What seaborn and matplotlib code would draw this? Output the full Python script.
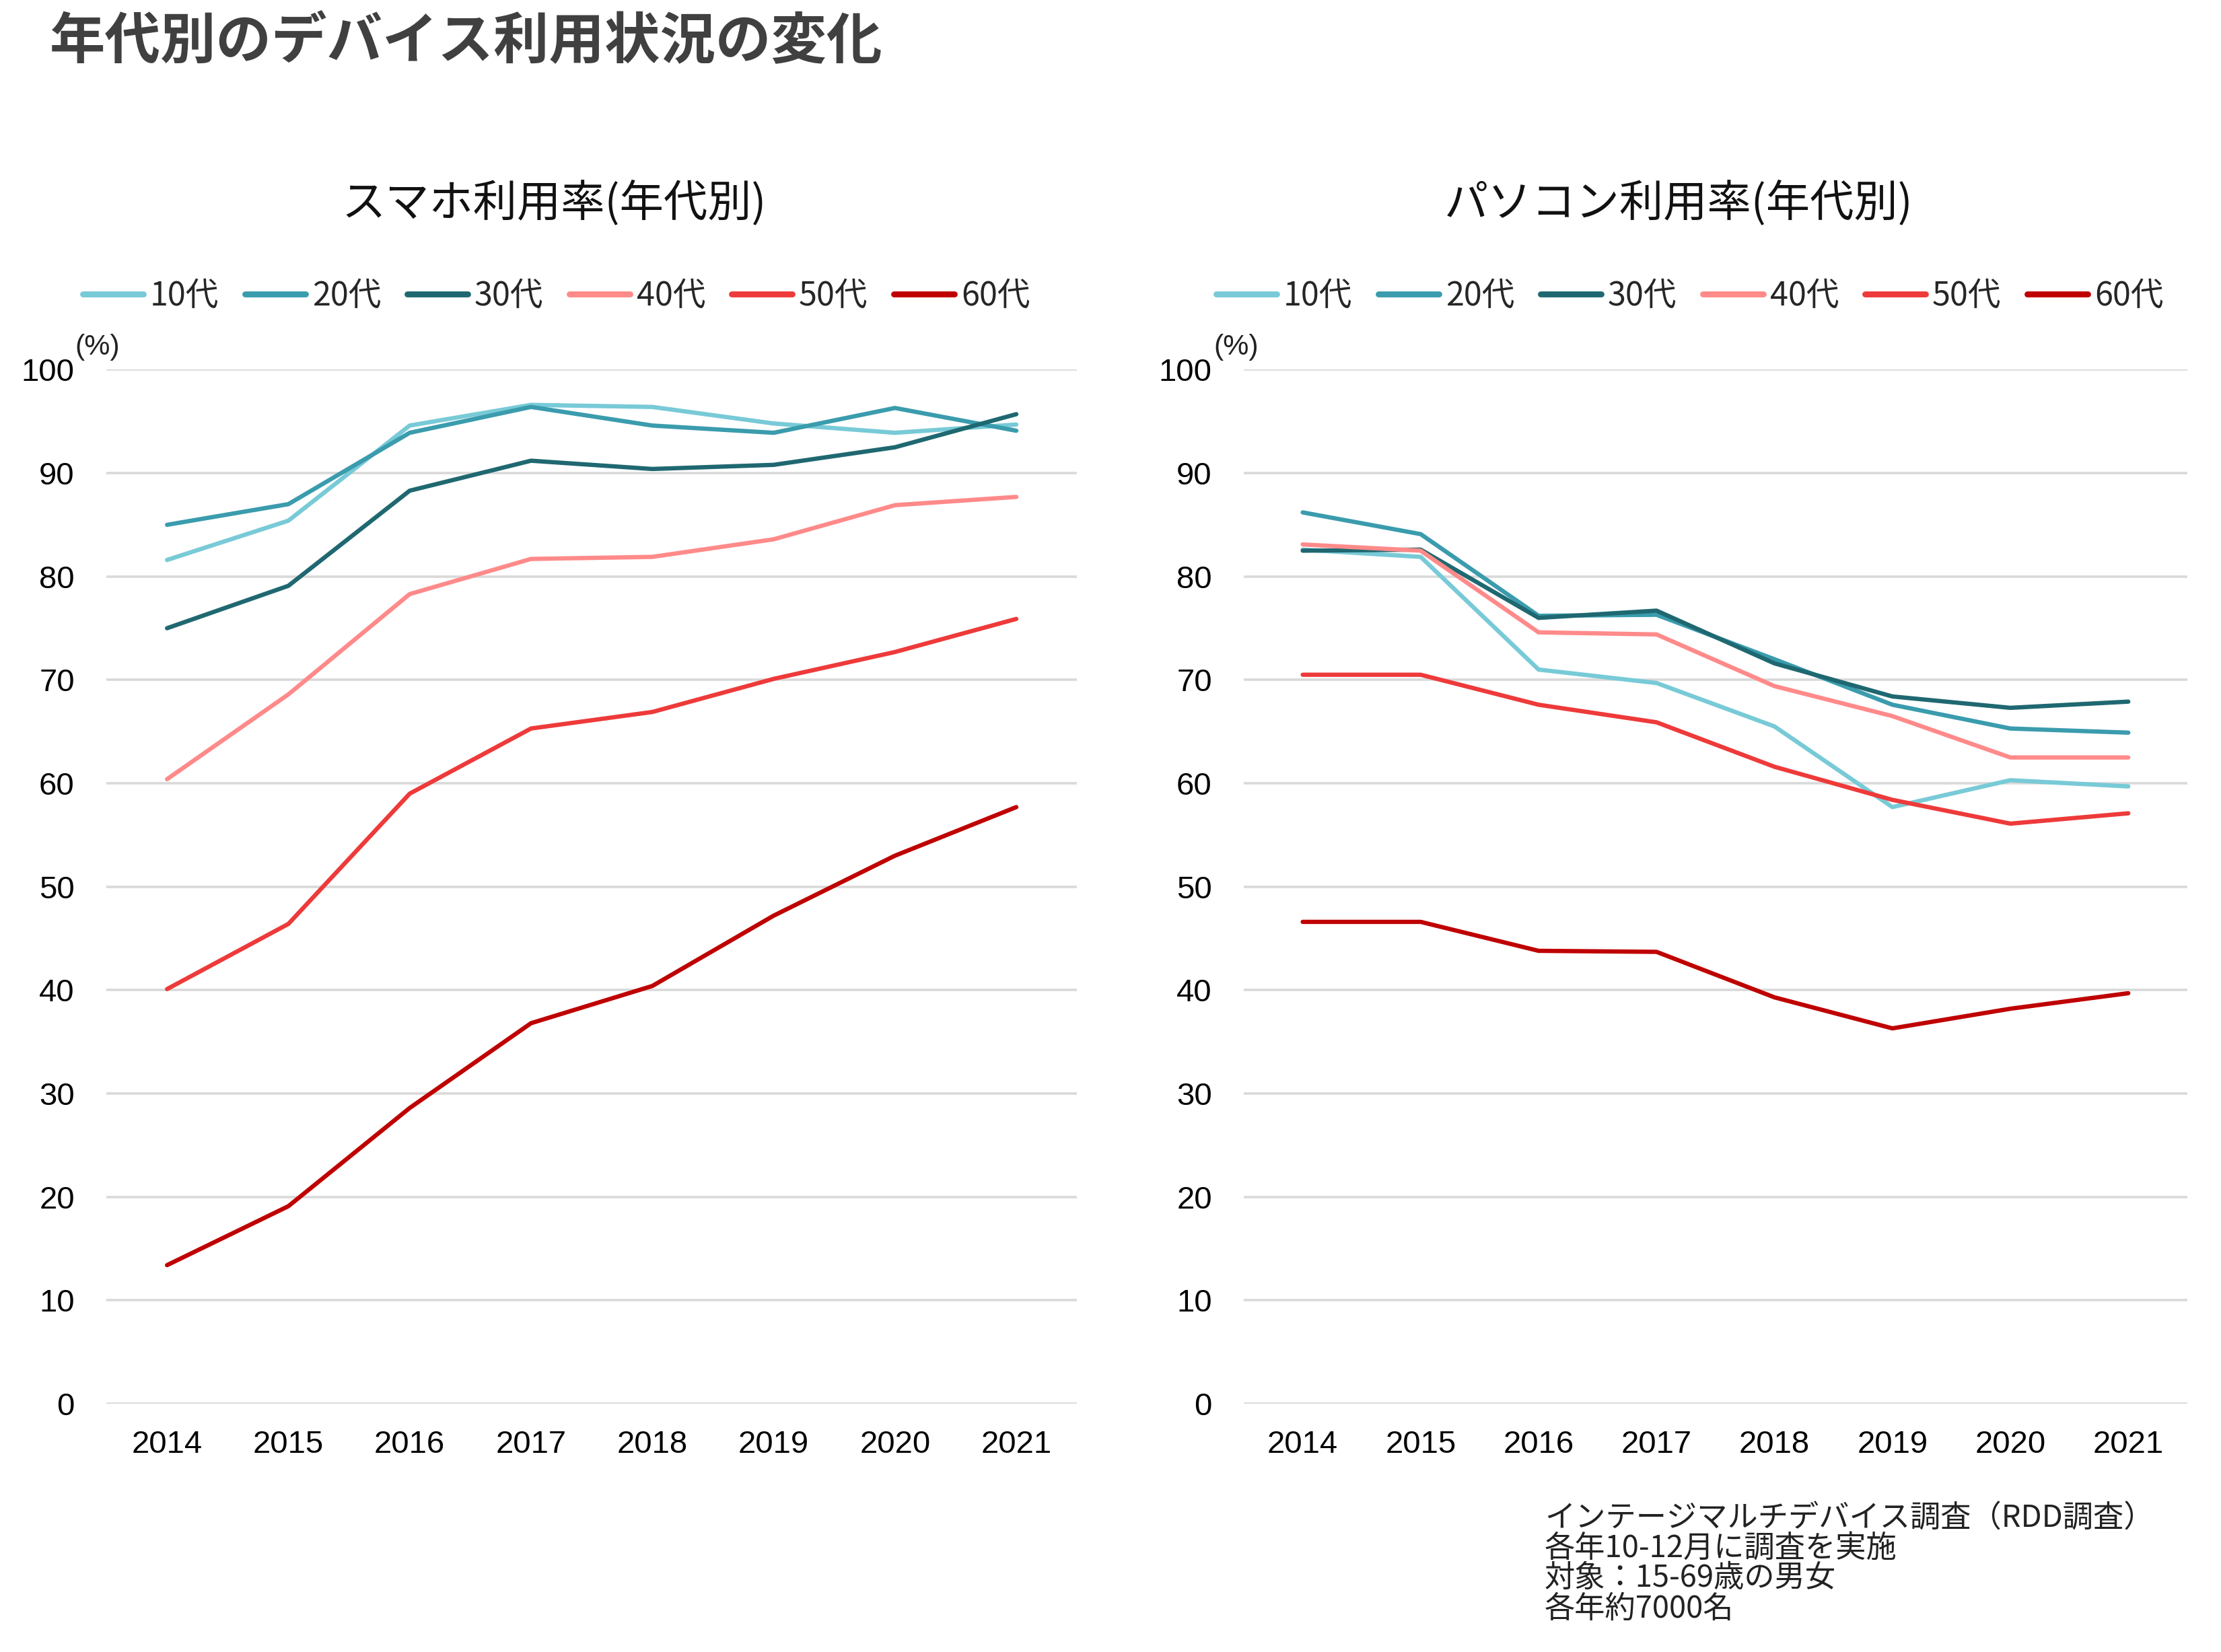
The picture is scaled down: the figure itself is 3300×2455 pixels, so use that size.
import matplotlib
matplotlib.use("Agg")
import matplotlib.pyplot as plt
import seaborn as sns
import pandas as pd

# data
years = [2014, 2015, 2016, 2017, 2018, 2019, 2020, 2021]
groups = ["10代", "20代", "30代", "40代", "50代", "60代"]
colors = ["#78CAD7", "#3A9CAD", "#1F6871", "#FF8A8A", "#EE3A3A", "#BF0000"]

smartphone = {
    "10代": [81.6, 85.4, 94.6, 96.6, 96.4, 94.8, 93.9, 94.7],
    "20代": [85.0, 87.0, 93.9, 96.4, 94.6, 93.9, 96.3, 94.1],
    "30代": [75.0, 79.1, 88.3, 91.2, 90.4, 90.8, 92.5, 95.7],
    "40代": [60.4, 68.6, 78.3, 81.7, 81.9, 83.6, 86.9, 87.7],
    "50代": [40.1, 46.4, 59.0, 65.3, 66.9, 70.1, 72.7, 75.9],
    "60代": [13.4, 19.1, 28.6, 36.8, 40.4, 47.2, 53.0, 57.7],
}
pc = {
    "10代": [82.6, 81.9, 71.0, 69.7, 65.5, 57.7, 60.3, 59.7],
    "20代": [86.2, 84.1, 76.2, 76.3, 72.0, 67.6, 65.3, 64.9],
    "30代": [82.5, 82.6, 76.0, 76.7, 71.6, 68.4, 67.3, 67.9],
    "40代": [83.1, 82.5, 74.6, 74.4, 69.4, 66.5, 62.5, 62.5],
    "50代": [70.5, 70.5, 67.6, 65.9, 61.6, 58.4, 56.1, 57.1],
    "60代": [46.6, 46.6, 43.8, 43.7, 39.3, 36.3, 38.2, 39.7],
}

chart_titles = ["スマホ利用率(年代別)", "パソコン利用率(年代別)"]
main_title = "年代別のデバイス利用状況の変化"
notes = ["インテージマルチデバイス調査（RDD調査）",
         "各年10-12月に調査を実施",
         "対象：15-69歳の男女",
         "各年約7000名"]


def to_long(d):
    rows = []
    for g in groups:
        for y, v in zip(years, d[g]):
            rows.append({"year": y, "group": g, "value": v})
    return pd.DataFrame(rows)


sns.set_theme(style="white")
plt.rcParams["font.family"] = ["Liberation Sans", "Noto Sans CJK JP", "DejaVu Sans"]
cjk = ["Noto Sans CJK JP", "DejaVu Sans"]

fig = plt.figure(figsize=(16.5, 12.275), dpi=200, facecolor="white")
palette = dict(zip(groups, colors))

axes_rects = [[0.0479, 0.1503, 0.437, 0.6259], [0.56, 0.1503, 0.4248, 0.6259]]
legend_x = [0.0300, 0.5403]
pct_x = [0.0339, 0.5464]
title_x = [0.2494, 0.7558]

for i, data in enumerate([smartphone, pc]):
    ax = fig.add_axes(axes_rects[i])
    df = to_long(data)
    sns.lineplot(data=df, x="year", y="value", hue="group", palette=palette,
                 hue_order=groups, linewidth=2.3, errorbar=None, ax=ax,
                 solid_capstyle="round")
    ax.set_xlim(2013.5, 2021.5)
    ax.set_ylim(0, 100)
    ax.set_xticks(years)
    ax.set_yticks(range(0, 101, 10))
    ax.set_xlabel("")
    ax.set_ylabel("")
    ax.grid(axis="y", color="#D9D9D9", linewidth=1.3)
    ax.set_axisbelow(True)
    for s in ax.spines.values():
        s.set_visible(False)
    ax.tick_params(axis="y", length=0, pad=17, labelsize=17, labelcolor="black")
    ax.tick_params(axis="x", length=0, pad=14, labelsize=17, labelcolor="black")

    handles, labels = ax.get_legend_handles_labels()
    ax.get_legend().remove()
    leg = ax.legend(handles, labels, loc="center left",
                    bbox_to_anchor=(legend_x[i], 0.8208),
                    bbox_transform=fig.transFigure, ncol=6, frameon=False,
                    borderpad=0, handlelength=1.85, handletextpad=0.2,
                    columnspacing=0.8, prop={"family": cjk, "size": 17.5})
    for h in leg.get_lines():
        h.set_linewidth(3.2)
        h.set_solid_capstyle("round")

    fig.text(pct_x[i], 0.7898, "(%)", fontsize=15.5, color="#222222",
             va="center", ha="left")
    fig.text(title_x[i], 0.877, chart_titles[i], fontsize=23.5,
             family=cjk, color="#111111", ha="center", va="center")

fig.text(0.0225, 0.974, main_title, fontsize=29.7, fontweight="bold",
         family=cjk, color="#404040", ha="left", va="center")

note_y = [2257, 2301, 2345, 2391]
for line, y in zip(notes, note_y):
    fig.text(2295 / 3300, 1 - y / 2455, line, fontsize=16.3, family=cjk,
             color="#222222", ha="left", va="center")

fig.savefig("out.png", dpi=200, facecolor="white")
